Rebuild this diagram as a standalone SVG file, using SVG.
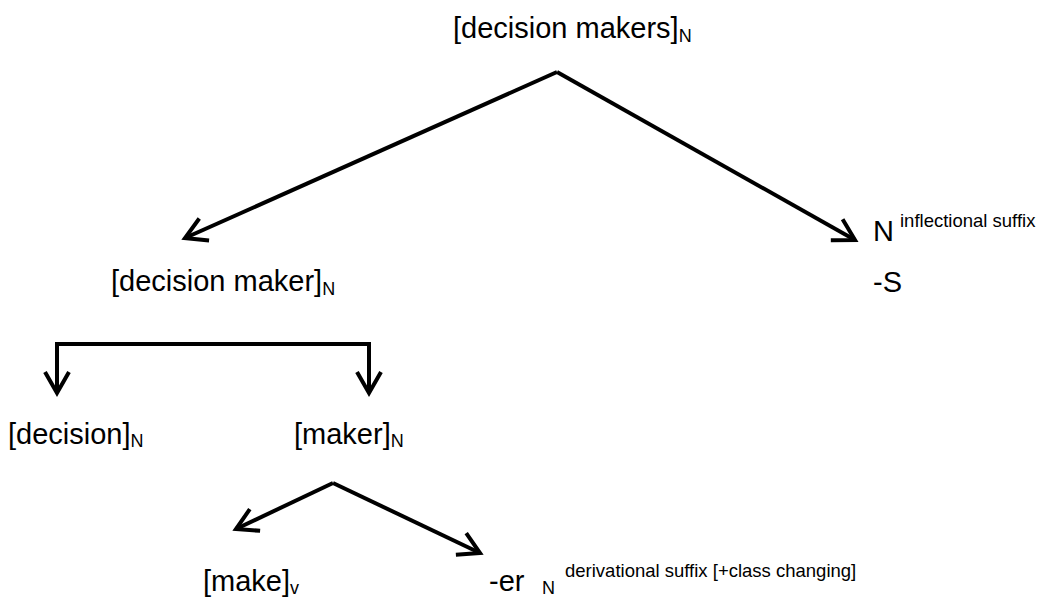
<svg xmlns="http://www.w3.org/2000/svg" width="1037" height="598" viewBox="0 0 1037 598">
<style>
text{font-family:"Liberation Sans",Arial,Helvetica,sans-serif;fill:#000}
.t{font-size:29px}
.s{font-size:18px}
.sup{font-size:18.5px}
.c{stroke:#000;stroke-width:4;fill:none}
</style>
<defs>
<marker id="ah" markerUnits="userSpaceOnUse" markerWidth="60" markerHeight="60" refX="0" refY="0" orient="auto" overflow="visible" viewBox="-30 -30 60 60">
<path d="M-21,-12 L0,0 L-21,12" stroke="#000" stroke-width="4" fill="none" stroke-linejoin="miter"/>
</marker>
</defs>
<rect width="1037" height="598" fill="#fff"/>
<g id="connectors">
<line class="c" x1="557" y1="72" x2="185" y2="238" marker-end="url(#ah)"/>
<line class="c" x1="557" y1="72" x2="855" y2="240" marker-end="url(#ah)"/>
<path class="c" d="M213,344 H57 V393" marker-end="url(#ah)"/>
<path class="c" d="M213,344 H369 V393" marker-end="url(#ah)"/>
<line class="c" x1="333" y1="483" x2="236" y2="529" marker-end="url(#ah)"/>
<line class="c" x1="333" y1="483" x2="480" y2="553" marker-end="url(#ah)"/>
</g>
<g id="node-decision-makers">
<text class="t" x="453" y="38">[decision makers]<tspan class="s" dy="4">N</tspan></text>
</g>
<g id="node-decision-maker">
<text class="t" x="111" y="291">[decision maker]<tspan class="s" dy="4">N</tspan></text>
</g>
<g id="node-inflectional">
<text class="t" x="873" y="241">N</text>
<text class="sup" x="900" y="227">inflectional suffix</text>
<text class="t" x="873" y="292">-S</text>
</g>
<g id="node-decision">
<text class="t" x="8" y="444">[decision]<tspan class="s" dy="3">N</tspan></text>
</g>
<g id="node-maker">
<text class="t" x="294" y="444">[maker]<tspan class="s" dy="3">N</tspan></text>
</g>
<g id="node-make">
<text class="t" x="203" y="591">[make]<tspan class="s" dy="3">v</tspan></text>
</g>
<g id="node-er">
<text class="t" x="489" y="591">-er</text>
<text class="s" x="542" y="594">N</text>
<text class="sup" x="565" y="577">derivational suffix [+class changing]</text>
</g>
</svg>
